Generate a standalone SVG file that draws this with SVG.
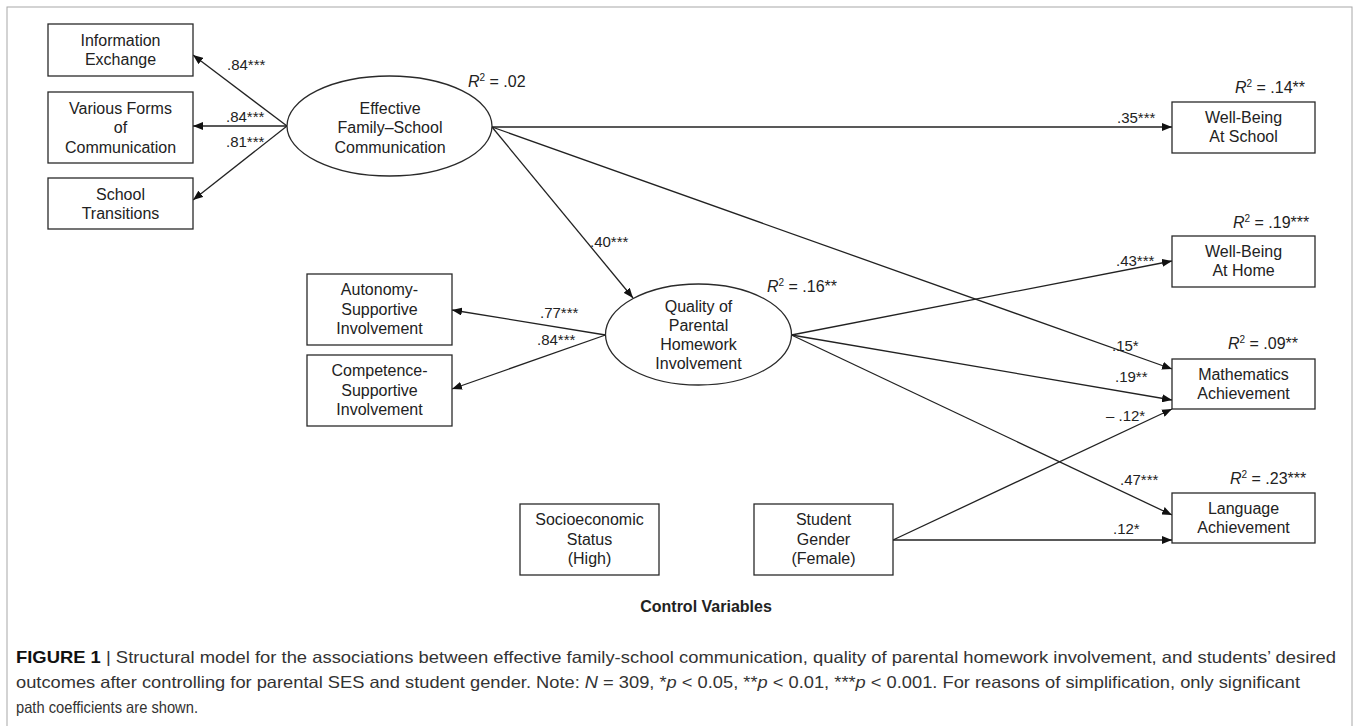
<svg xmlns="http://www.w3.org/2000/svg" width="1354" height="726" viewBox="0 0 1354 726">
<style>
.box{fill:#fff;stroke:#2a2a2a;stroke-width:1.3}
.t{font-family:"Liberation Sans",Arial,sans-serif;font-size:16px;fill:#222;text-anchor:middle}
.lbl{font-family:"Liberation Sans",Arial,sans-serif;font-size:15px;fill:#222}
.r2{font-family:"Liberation Sans",Arial,sans-serif;font-size:16px;fill:#222}
.edge{stroke:#222;stroke-width:1.3;fill:none;marker-end:url(#ah)}
.cap{font-family:"Liberation Sans Narrow","Liberation Sans",Arial,sans-serif;font-size:16.5px;fill:#333}
</style>
<defs>
<marker id="ah" viewBox="0 0 10 8" refX="10" refY="4" markerWidth="10" markerHeight="8" markerUnits="userSpaceOnUse" orient="auto">
<path d="M0,0 L10,4 L0,8 z" fill="#111"/>
</marker>
</defs>
<rect x="0" y="0" width="1354" height="726" fill="#fff"/>
<rect x="7" y="7" width="1345" height="730" fill="none" stroke="#a8a8a8" stroke-width="1"/>

<g id="connectors">
<path class="edge" d="M287,126 L193,55"/>
<path class="edge" d="M287,126 L193,126"/>
<path class="edge" d="M287,126 L193,200"/>
<path class="edge" d="M492,127 L1172,127"/>
<path class="edge" d="M492,127 L633,298"/>
<path class="edge" d="M492,127 L1172,369"/>
<path class="edge" d="M605.5,335 L452,310"/>
<path class="edge" d="M605.5,335 L452,389"/>
<path class="edge" d="M791.5,335 L1172,261"/>
<path class="edge" d="M791.5,335 L1172,400"/>
<path class="edge" d="M791.5,335 L1172,515"/>
<path class="edge" d="M893,540 L1172,540"/>
<path class="edge" d="M893,540 L1172,409"/>
<text class="lbl" x="227" y="70">.84***</text>
<text class="lbl" x="226" y="122">.84***</text>
<text class="lbl" x="226" y="147">.81***</text>
<text class="lbl" x="1117" y="123">.35***</text>
<text class="lbl" x="590" y="247">.40***</text>
<text class="lbl" x="1112" y="351">.15*</text>
<text class="lbl" x="540" y="318">.77***</text>
<text class="lbl" x="537" y="345">.84***</text>
<text class="lbl" x="1116" y="266">.43***</text>
<text class="lbl" x="1115" y="382">.19**</text>
<text class="lbl" x="1120" y="485">.47***</text>
<text class="lbl" x="1113" y="534">.12*</text>
<text class="lbl" x="1106" y="421">– .12*</text>
</g>

<g id="r2-labels">
<text class="r2" x="468" y="87"><tspan font-style="italic">R</tspan><tspan font-size="10" dy="-6">2</tspan><tspan dy="6"> = .02</tspan></text>
<text class="r2" x="767" y="292"><tspan font-style="italic">R</tspan><tspan font-size="10" dy="-6">2</tspan><tspan dy="6"> = .16**</tspan></text>
<text class="r2" x="1235" y="93"><tspan font-style="italic">R</tspan><tspan font-size="10" dy="-6">2</tspan><tspan dy="6"> = .14**</tspan></text>
<text class="r2" x="1233" y="228"><tspan font-style="italic">R</tspan><tspan font-size="10" dy="-6">2</tspan><tspan dy="6"> = .19***</tspan></text>
<text class="r2" x="1228" y="349"><tspan font-style="italic">R</tspan><tspan font-size="10" dy="-6">2</tspan><tspan dy="6"> = .09**</tspan></text>
<text class="r2" x="1230" y="484"><tspan font-style="italic">R</tspan><tspan font-size="10" dy="-6">2</tspan><tspan dy="6"> = .23***</tspan></text>
</g>

<g id="info-exchange">
<rect class="box" x="48" y="24" width="145" height="52"/>
<text class="t" x="120.5" y="46">Information</text>
<text class="t" x="120.5" y="65">Exchange</text>
</g>
<g id="various-forms">
<rect class="box" x="48" y="92" width="145" height="71"/>
<text class="t" x="120.5" y="113.5">Various Forms</text>
<text class="t" x="120.5" y="133">of</text>
<text class="t" x="120.5" y="152.5">Communication</text>
</g>
<g id="school-transitions">
<rect class="box" x="48" y="178" width="145" height="51"/>
<text class="t" x="120.5" y="199.5">School</text>
<text class="t" x="120.5" y="218.5">Transitions</text>
</g>
<g id="effective-communication">
<ellipse class="box" cx="389.5" cy="126" rx="102.5" ry="50"/>
<text class="t" x="390" y="113.5">Effective</text>
<text class="t" x="390" y="133">Family–School</text>
<text class="t" x="390" y="152.5">Communication</text>
</g>
<g id="quality-involvement">
<ellipse class="box" cx="698.5" cy="334.5" rx="93" ry="50.5"/>
<text class="t" x="698.5" y="311.5">Quality of</text>
<text class="t" x="698.5" y="330.5">Parental</text>
<text class="t" x="698.5" y="349.5">Homework</text>
<text class="t" x="698.5" y="368.5">Involvement</text>
</g>
<g id="autonomy">
<rect class="box" x="307" y="274" width="145" height="71"/>
<text class="t" x="379.5" y="295">Autonomy-</text>
<text class="t" x="379.5" y="314.5">Supportive</text>
<text class="t" x="379.5" y="334">Involvement</text>
</g>
<g id="competence">
<rect class="box" x="307" y="355" width="145" height="71"/>
<text class="t" x="379.5" y="376">Competence-</text>
<text class="t" x="379.5" y="395.5">Supportive</text>
<text class="t" x="379.5" y="415">Involvement</text>
</g>
<g id="wb-school">
<rect class="box" x="1172" y="102" width="143" height="51"/>
<text class="t" x="1243.5" y="123">Well-Being</text>
<text class="t" x="1243.5" y="142">At School</text>
</g>
<g id="wb-home">
<rect class="box" x="1172" y="236" width="143" height="51"/>
<text class="t" x="1243.5" y="257">Well-Being</text>
<text class="t" x="1243.5" y="276">At Home</text>
</g>
<g id="math">
<rect class="box" x="1172" y="359" width="143" height="50"/>
<text class="t" x="1243.5" y="379.5">Mathematics</text>
<text class="t" x="1243.5" y="398.5">Achievement</text>
</g>
<g id="language">
<rect class="box" x="1172" y="493" width="143" height="50"/>
<text class="t" x="1243.5" y="513.5">Language</text>
<text class="t" x="1243.5" y="532.5">Achievement</text>
</g>
<g id="ses">
<rect class="box" x="520" y="504" width="139" height="71"/>
<text class="t" x="589.5" y="525">Socioeconomic</text>
<text class="t" x="589.5" y="544.5">Status</text>
<text class="t" x="589.5" y="564">(High)</text>
</g>
<g id="gender">
<rect class="box" x="754" y="504" width="139" height="71"/>
<text class="t" x="823.5" y="525">Student</text>
<text class="t" x="823.5" y="544.5">Gender</text>
<text class="t" x="823.5" y="564">(Female)</text>
</g>
<text x="706" y="612" font-family="'Liberation Sans',Arial,sans-serif" font-size="16" font-weight="bold" fill="#222" text-anchor="middle">Control Variables</text>

<g id="caption">
<text class="cap" x="16" y="663" textLength="1320" lengthAdjust="spacingAndGlyphs"><tspan font-weight="bold" fill="#111">FIGURE 1</tspan> | Structural model for the associations between effective family-school communication, quality of parental homework involvement, and students’ desired</text>
<text class="cap" x="16" y="688" textLength="1284" lengthAdjust="spacingAndGlyphs">outcomes after controlling for parental SES and student gender. Note: <tspan font-style="italic">N</tspan> = 309, *<tspan font-style="italic">p</tspan> &lt; 0.05, **<tspan font-style="italic">p</tspan> &lt; 0.01, ***<tspan font-style="italic">p</tspan> &lt; 0.001. For reasons of simplification, only significant</text>
<text class="cap" x="16" y="713" textLength="182" lengthAdjust="spacingAndGlyphs">path coefficients are shown.</text>
</g>
</svg>
